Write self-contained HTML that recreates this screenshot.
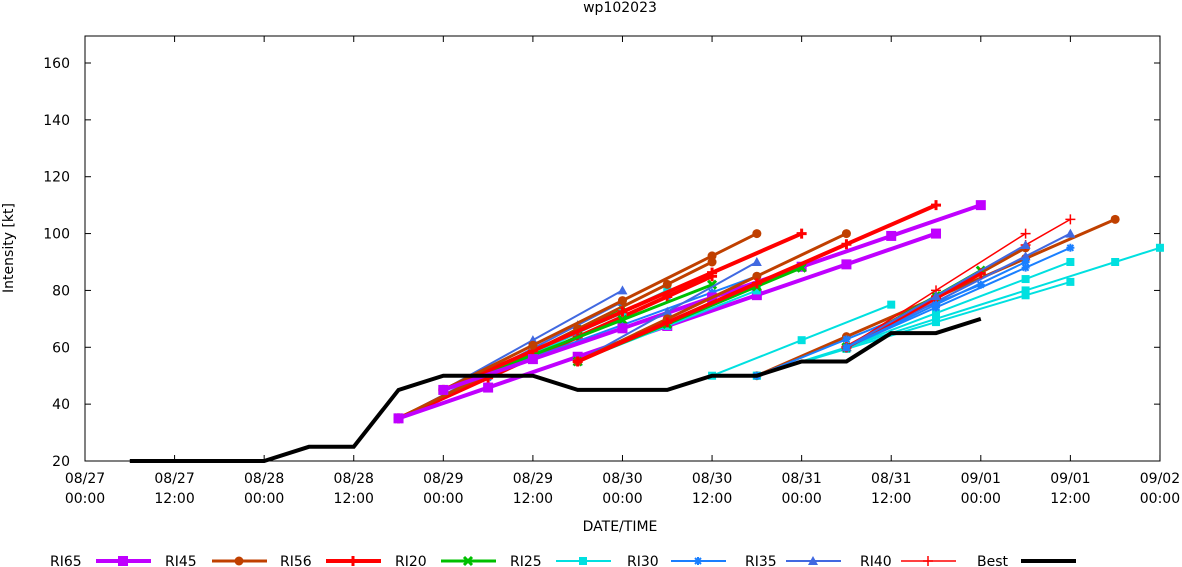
<!DOCTYPE html><html><head><meta charset="utf-8"><style>body{margin:0;background:#fff}svg{display:block;font-family:"DejaVu Sans","Liberation Sans",sans-serif}</style></head><body>
<svg id="s" width="1182" height="567" xmlns="http://www.w3.org/2000/svg"></svg>
<script>
const s=document.getElementById('s');let h='';
const X=i=>85+i*44.79, Y=k=>461-(k-20)*2.8429;
h+='<rect x="85" y="36" width="1075" height="425" fill="none" stroke="#000" stroke-width="1"/>';
h+='<text x="620" y="12" font-size="14" text-anchor="middle">wp102023</text>';
for(let k=20;k<=160;k+=20){const y=Y(k);h+=`<line x1="85" x2="91" y1="${y}" y2="${y}" stroke="#000"/><line x1="1154" x2="1160" y1="${y}" y2="${y}" stroke="#000"/><text x="70" y="${y+5}" font-size="14" text-anchor="end">${k}</text>`;}
const lab=[["08/27","00:00"],["08/27","12:00"],["08/28","00:00"],["08/28","12:00"],["08/29","00:00"],["08/29","12:00"],["08/30","00:00"],["08/30","12:00"],["08/31","00:00"],["08/31","12:00"],["09/01","00:00"],["09/01","12:00"],["09/02","00:00"]];
lab.forEach((l,j)=>{const x=X(j*2);h+=`<line x1="${x}" x2="${x}" y1="455" y2="461" stroke="#000"/><line x1="${x}" x2="${x}" y1="36" y2="42" stroke="#000"/><text x="${x}" y="483" font-size="14" text-anchor="middle">${l[0]}</text><text x="${x}" y="503" font-size="14" text-anchor="middle">${l[1]}</text>`;});
h+='<text x="620" y="531" font-size="14" text-anchor="middle">DATE/TIME</text>';
h+='<text transform="translate(13,248) rotate(-90)" font-size="14" text-anchor="middle">Intensity [kt]</text>';
const C={p:['#c000ff',4],b:['#c04000',3],r:['#ff0000',4],g:['#00c000',3],c:['#00e0e0',2],u:['#1a7fff',2],t:['#4169e1',2],e:['#ff0000',1.5],k:['#000',4]};
function mk(t,x,y){const c=C[t][0];
 if(t=='p')return `<rect x="${x-5}" y="${y-5}" width="10" height="10" fill="${c}"/>`;
 if(t=='b')return `<circle cx="${x}" cy="${y}" r="4.5" fill="${c}"/>`;
 if(t=='r')return `<path d="M${x-5} ${y}H${x+5}M${x} ${y-5}V${y+5}" stroke="${c}" stroke-width="3"/>`;
 if(t=='g')return `<path d="M${x-4} ${y-4}L${x+4} ${y+4}M${x+4} ${y-4}L${x-4} ${y+4}" stroke="${c}" stroke-width="3"/>`;
 if(t=='c')return `<rect x="${x-4}" y="${y-4}" width="8" height="8" fill="${c}"/>`;
 if(t=='u')return `<path d="M${x-4} ${y}H${x+4}M${x} ${y-4}V${y+4}M${x-3} ${y-3}L${x+3} ${y+3}M${x+3} ${y-3}L${x-3} ${y+3}" stroke="${c}" stroke-width="2"/>`;
 if(t=='t')return `<path d="M${x} ${y-5}L${x+5} ${y+4}H${x-5}Z" fill="${c}"/>`;
 if(t=='e')return `<path d="M${x-5} ${y}H${x+5}M${x} ${y-5}V${y+5}" stroke="${c}" stroke-width="1.5"/>`;
 return '';}
function ser(t,i0,k0,i1,k1){let pts=[],m='';for(let i=i0;i<=i1;i++){const k=k0+(k1-k0)*(i-i0)/(i1-i0);pts.push(X(i)+','+Y(k));if((i-i0)%2==0||i==i1)m+=mk(t,X(i),Y(k));}
 h+=`<polyline points="${pts.join(' ')}" fill="none" stroke="${C[t][0]}" stroke-width="${C[t][1]}"/>`+m;}
ser('c',7,35,13,80);ser('g',7,35,12,74);ser('u',7,35,13,78);ser('t',7,35,12,76);ser('r',7,35,14,85);ser('b',7,35,14,90);ser('p',7,35,19,100);
ser('c',8,45,12,72);ser('t',8,45,12,80);ser('u',8,45,15,85);ser('g',8,45,14,82);ser('r',8,45,16,100);ser('b',8,45,15,100);ser('p',8,45,20,110);
ser('c',11,55,15,80);ser('u',11,55,15,85);ser('t',11,55,15,90);ser('g',11,55,16,88);ser('b',11,55,17,100);ser('r',11,55,19,110);
ser('c',14,50,18,75);ser('c',15,50,24,95);ser('b',15,50,23,105);ser('c',15,50,22,83);ser('u',15,50,20,82);
ser('c',17,60,22,90);ser('u',17,60,22,95);ser('t',17,60,22,100);ser('b',17,60,21,95);ser('g',17,60,20,87);ser('r',17,60,20,86);ser('e',17,60,21,100);ser('e',17,60,22,105);ser('t',17,60,21,96);ser('u',17,60,21,90);
const bt=[[1,20],[2,20],[3,20],[4,20],[5,25],[6,25],[7,45],[8,50],[9,50],[10,50],[11,45],[12,45],[13,45],[14,50],[15,50],[16,55],[17,55],[18,65],[19,65],[20,70]];
h+=`<polyline points="${bt.map(p=>X(p[0])+','+Y(p[1])).join(' ')}" fill="none" stroke="#000" stroke-width="4"/>`;
const L=[['RI65','p',50,96],['RI45','b',165,212],['RI56','r',280,326],['RI20','r',395,441],['RI25','g',510,556],['RI30','c',627,671],['RI35','u',745,786],['RI40','t',860,901],['Best','e',977,1021]];
const LS=['p','b','r','g','c','u','t','e','k'];
L.forEach((l,j)=>{const t=LS[j];h+=`<text x="${l[2]}" y="566" font-size="14">${l[0]}</text><line x1="${l[3]}" x2="${l[3]+55}" y1="561" y2="561" stroke="${C[t][0]}" stroke-width="${C[t][1]}"/>`+mk(t,l[3]+27,561);});
s.innerHTML=h;
</script></body></html>
